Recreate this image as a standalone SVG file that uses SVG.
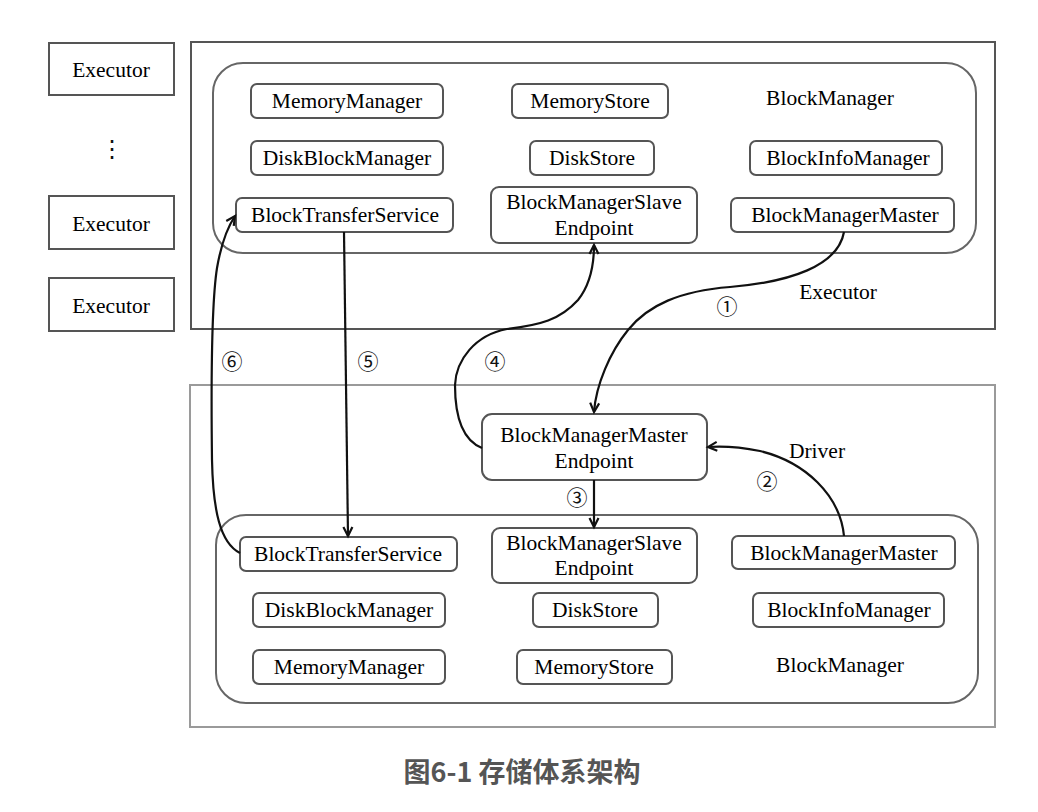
<svg xmlns="http://www.w3.org/2000/svg" width="1038" height="812" viewBox="0 0 1038 812">
<style>
.bg{fill:#fff}
.exec{fill:#fff;stroke:#555;stroke-width:2}
.outerA{fill:none;stroke:#555;stroke-width:2}
.outerB{fill:none;stroke:#9a9a9a;stroke-width:2}
.group{fill:none;stroke:#666;stroke-width:2}
.box{fill:#fff;stroke:#555;stroke-width:2}
.t{font-family:"Liberation Serif","Times New Roman",serif;font-size:21.5px;fill:#000;text-anchor:middle}
.n{font-family:"Noto Sans CJK SC","DejaVu Sans",sans-serif;font-size:21px;fill:#111;text-anchor:middle}
.cap{font-family:"Noto Sans CJK SC","Noto Sans",sans-serif;font-size:27px;font-weight:bold;fill:#555;text-anchor:middle}
.edge{fill:none;stroke:#111;stroke-width:2.2}
</style>
<defs>
<marker id="arr" viewBox="-11 -7 13 14" markerWidth="13" markerHeight="14" refX="0" refY="0" markerUnits="userSpaceOnUse" orient="auto" overflow="visible">
<path d="M-9,-4.5 L0,0 L-9,4.5" fill="none" stroke="#111" stroke-width="2.2" stroke-linejoin="miter"/>
</marker>
</defs>
<rect class="bg" x="0" y="0" width="1038" height="812"/>

<g id="executors">
<g id="executor1"><rect class="exec" x="49" y="43" width="125" height="52"/><text class="t" x="111" y="77">Executor</text></g>
<text id="dots" x="112" y="157" font-family="DejaVu Sans, sans-serif" font-size="24" fill="#111" text-anchor="middle">⋮</text>
<g id="executor2"><rect class="exec" x="49" y="196" width="125" height="53"/><text class="t" x="111" y="231">Executor</text></g>
<g id="executor3"><rect class="exec" x="49" y="278" width="125" height="53"/><text class="t" x="111" y="313">Executor</text></g>
</g>

<g id="executor-container">
<rect class="outerA" x="191" y="42" width="804" height="287"/>
<text class="t" x="838" y="299">Executor</text>
<rect class="group" x="213" y="63" width="763" height="190" rx="30"/>
<text class="t" x="830" y="105">BlockManager</text>
<g id="u-memmgr"><rect class="box" x="251" y="84" width="192" height="34" rx="6"/><text class="t" x="347" y="108">MemoryManager</text></g>
<g id="u-memstore"><rect class="box" x="512" y="84" width="156" height="34" rx="6"/><text class="t" x="590" y="108">MemoryStore</text></g>
<g id="u-diskblk"><rect class="box" x="251" y="141" width="192" height="34" rx="6"/><text class="t" x="347" y="165">DiskBlockManager</text></g>
<g id="u-diskstore"><rect class="box" x="530" y="141" width="124" height="34" rx="6"/><text class="t" x="592" y="165">DiskStore</text></g>
<g id="u-blkinfo"><rect class="box" x="750" y="141" width="192" height="34" rx="6"/><text class="t" x="848" y="165">BlockInfoManager</text></g>
<g id="u-bts"><rect class="box" x="236" y="198" width="217" height="34" rx="6"/><text class="t" x="345" y="222">BlockTransferService</text></g>
<g id="u-slave"><rect class="box" x="491" y="187" width="206" height="56" rx="8"/><text class="t" x="594" y="209">BlockManagerSlave</text><text class="t" x="594" y="235">Endpoint</text></g>
<g id="u-bmm"><rect class="box" x="731" y="198" width="223" height="34" rx="6"/><text class="t" x="845" y="222">BlockManagerMaster</text></g>
</g>

<g id="driver-container">
<rect class="outerB" x="190" y="385" width="805" height="342"/>
<text class="t" x="817" y="458">Driver</text>
<g id="d-bmme"><rect class="box" x="482" y="414" width="225" height="66" rx="10"/><text class="t" x="594" y="442">BlockManagerMaster</text><text class="t" x="594" y="468">Endpoint</text></g>
<rect class="group" x="216" y="515" width="762" height="188" rx="30"/>
<text class="t" x="840" y="672">BlockManager</text>
<g id="l-bts"><rect class="box" x="240" y="537" width="217" height="34" rx="6"/><text class="t" x="348" y="561">BlockTransferService</text></g>
<g id="l-slave"><rect class="box" x="492" y="528" width="205" height="55" rx="8"/><text class="t" x="594" y="550">BlockManagerSlave</text><text class="t" x="594" y="575">Endpoint</text></g>
<g id="l-bmm"><rect class="box" x="732" y="536" width="223" height="33" rx="6"/><text class="t" x="844" y="560">BlockManagerMaster</text></g>
<g id="l-diskblk"><rect class="box" x="253" y="593" width="192" height="34" rx="6"/><text class="t" x="349" y="617">DiskBlockManager</text></g>
<g id="l-diskstore"><rect class="box" x="533" y="593" width="125" height="34" rx="6"/><text class="t" x="595" y="617">DiskStore</text></g>
<g id="l-blkinfo"><rect class="box" x="753" y="593" width="191" height="34" rx="6"/><text class="t" x="849" y="617">BlockInfoManager</text></g>
<g id="l-memmgr"><rect class="box" x="253" y="650" width="192" height="34" rx="6"/><text class="t" x="349" y="674">MemoryManager</text></g>
<g id="l-memstore"><rect class="box" x="517" y="650" width="155" height="34" rx="6"/><text class="t" x="594" y="674">MemoryStore</text></g>
</g>

<g id="connectors">
<path class="edge" marker-end="url(#arr)" d="M844,232 C838,266 790,282 730,287 C680,291 648,305 628,330 C610,352 596,385 594,412"/>
<path class="edge" marker-end="url(#arr)" d="M844,536 C840,495 805,462 760,451 C740,447 722,446 708,447"/>
<path class="edge" marker-end="url(#arr)" d="M594,480 L594,527"/>
<path class="edge" marker-end="url(#arr)" d="M482,448 C462,440 455,415 455,385 C456,360 475,335 507,329 C540,325 560,320 578,300 C590,285 594,265 594,245"/>
<path class="edge" marker-end="url(#arr)" d="M344,232 L348,536"/>
<path class="edge" marker-end="url(#arr)" d="M240,553 C220,543 213,510 212,460 C211,380 212,300 217,268 C221,245 227,228 235,216"/>
<text class="n" x="727" y="314">①</text>
<text class="n" x="767" y="489">②</text>
<text class="n" x="577" y="505">③</text>
<text class="n" x="495" y="369">④</text>
<text class="n" x="368" y="369">⑤</text>
<text class="n" x="232" y="369">⑥</text>
</g>

<text id="caption" class="cap" x="522" y="782">图6-1 存储体系架构</text>
</svg>
